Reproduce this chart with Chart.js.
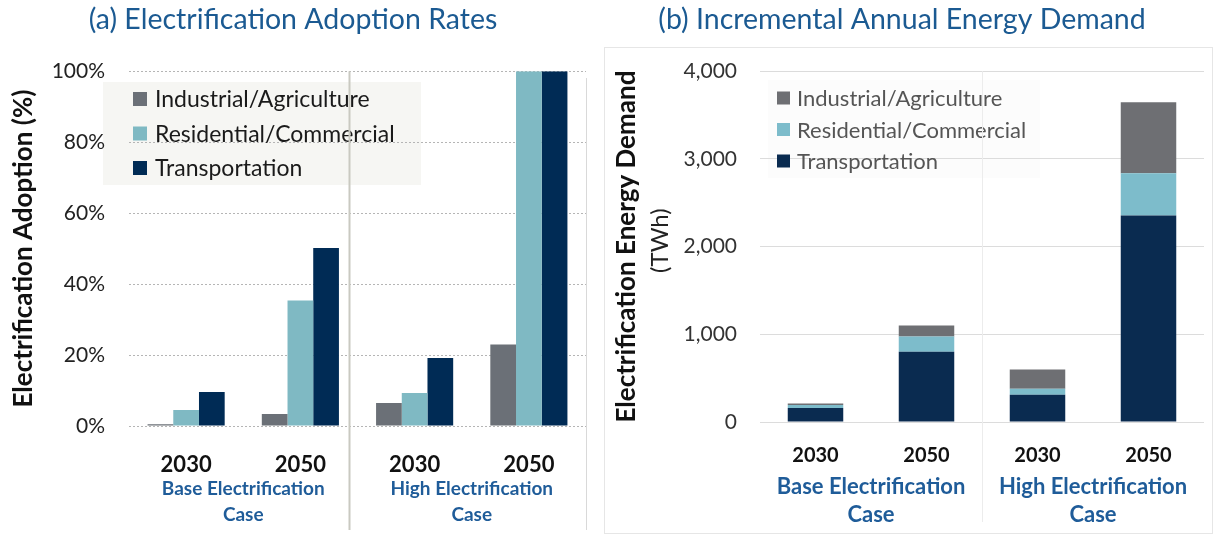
<!DOCTYPE html>
<html>
<head>
<meta charset="utf-8">
<script src="https://cdn.jsdelivr.net/npm/chart.js@4.4.1/dist/chart.umd.min.js"></script>
<style>
  html, body { margin: 0; padding: 0; background: #fff; }
  #wrap { position: relative; width: 1216px; height: 536px; overflow: hidden; }
  #leftBox { position: absolute; left: 0; top: 0; width: 600px; height: 536px; }
  #rightBox { position: absolute; left: 600px; top: 0; width: 616px; height: 536px; }
</style>
</head>
<body>
<div id="wrap">
  <div id="leftBox"><canvas id="adoptionChart"></canvas></div>
  <div id="rightBox"><canvas id="demandChart"></canvas></div>
</div>
<script>
// categories (year) and case groups
const years = ['2030', '2050', '2030', '2050'];
const caseGroups = [['Base Electrification', 'Case'], ['High Electrification', 'Case']];
const sectors = ['Industrial/Agriculture', 'Residential/Commercial', 'Transportation'];

// (a) adoption rates, %
const adoptIndustrial = [0.5, 3.4, 6.5, 23];
const adoptResidential = [4.5, 35.4, 9.3, 100];
const adoptTransport = [9.6, 50.2, 19.2, 100];
const adoptTicks = [0, 20, 40, 60, 80, 100];

// (b) incremental annual energy demand, TWh
const demandIndustrial = [15, 125, 220, 810];
const demandResidential = [35, 175, 70, 480];
const demandTransport = [160, 800, 310, 2355];
const demandTicks = [0, 1000, 2000, 3000, 4000];

const FONT = 'Lato, "Open Sans", sans-serif';
const TITLE_BLUE = '#1b5a92';
const GROUP_BLUE = '#1f5c99';

// légende dessinée dans la zone du graphique (fond sous la grille, entrées au-dessus)
function boxLegend(opts) {
  return {
    id: 'boxLegend',
    beforeDraw(chart) {
      if (!opts.bg) return;
      const ctx = chart.ctx;
      ctx.save();
      ctx.fillStyle = opts.bg;
      ctx.fillRect(opts.x, opts.y, opts.w, opts.h);
      ctx.restore();
    },
    afterDraw(chart) {
      const ctx = chart.ctx;
      ctx.save();
      ctx.font = opts.size + 'px ' + FONT;
      ctx.textBaseline = 'middle';
      ctx.textAlign = 'left';
      opts.items.forEach((it, i) => {
        const cy = opts.firstY + i * opts.step;
        ctx.fillStyle = it.color;
        ctx.fillRect(opts.sqX, cy - opts.sq / 2, opts.sq, opts.sq);
        ctx.fillStyle = opts.textColor;
        ctx.fillText(it.label, opts.textX, cy + 1);
      });
      ctx.restore();
    }
  };
}

// libellés de groupe sous l'axe + séparateur vertical
function caseLabels(opts) {
  return {
    id: 'caseLabels',
    afterDraw(chart) {
      const ctx = chart.ctx;
      const xs = chart.scales.x;
      const p = years.map((_, i) => xs.getPixelForValue(i));
      ctx.save();
      // séparateur entre les deux cas
      const sepX = (p[1] + p[2]) / 2 + opts.sepShift * (p[2] - p[1]);
      ctx.strokeStyle = opts.sepColor;
      ctx.lineWidth = opts.sepWidth;
      ctx.beginPath();
      ctx.moveTo(Math.round(sepX) + 0.5, chart.chartArea.top);
      ctx.lineTo(Math.round(sepX) + 0.5, opts.sepBottom);
      ctx.stroke();
      if (opts.edgeColor) {
        ctx.strokeStyle = opts.edgeColor;
        ctx.lineWidth = 1;
        ctx.beginPath();
        ctx.moveTo(chart.chartArea.right + 0.5, opts.edgeTop);
        ctx.lineTo(chart.chartArea.right + 0.5, opts.sepBottom);
        ctx.stroke();
      }
      if (opts.frame) {
        ctx.strokeStyle = opts.frame.color;
        ctx.lineWidth = 1;
        ctx.strokeRect(opts.frame.x + 0.5, opts.frame.y + 0.5, opts.frame.w, opts.frame.h);
      }
      ctx.fillStyle = GROUP_BLUE;
      ctx.font = 'bold ' + opts.size + 'px ' + FONT;
      ctx.textAlign = 'center';
      ctx.textBaseline = 'middle';
      caseGroups.forEach((lines, g) => {
        const cx = (p[g * 2] + p[g * 2 + 1]) / 2;
        lines.forEach((t, k) => {
          ctx.fillText(t, cx, chart.chartArea.bottom + opts.firstDy + k * opts.lineStep);
        });
      });
      if (opts.unit) {
        ctx.fillStyle = '#222';
        ctx.font = opts.unit.size + 'px ' + FONT;
        ctx.translate(opts.unit.x, (chart.chartArea.top + chart.chartArea.bottom) / 2 - 6);
        ctx.rotate(-Math.PI / 2);
        ctx.fillText(opts.unit.text, 0, 0);
      }
      ctx.restore();
    }
  };
}

const colsA = ['#6b7077', '#7fb9c3', '#002b55'];
const colsB = ['#6e6f73', '#7dbccb', '#0a2b50'];

// (a) barres groupées
new Chart(document.getElementById('adoptionChart'), {
  type: 'bar',
  data: {
    labels: years,
    datasets: [
      { label: sectors[0], data: adoptIndustrial, backgroundColor: colsA[0] },
      { label: sectors[1], data: adoptResidential, backgroundColor: colsA[1] },
      { label: sectors[2], data: adoptTransport, backgroundColor: colsA[2] }
    ]
  },
  options: {
    responsive: true,
    maintainAspectRatio: false,
    animation: false,
    layout: { padding: { left: 0, right: 14, top: 0, bottom: 0 } },
    datasets: { bar: { categoryPercentage: 0.675, barPercentage: 1.0 } },
    plugins: {
      legend: { display: false },
      tooltip: { enabled: false },
      title: {
        display: true,
        text: '(a) Electrification Adoption Rates',
        color: TITLE_BLUE,
        font: { family: FONT, size: 28.5, weight: 'normal' },
        padding: { top: 3, bottom: 34 }
      }
    },
    scales: {
      x: {
        grid: { display: false },
        border: { display: false },
        ticks: { color: '#111', font: { family: FONT, size: 22, weight: 'bold' }, padding: 18 },
        afterFit: s => { s.height = 110; }
      },
      y: {
        min: 0,
        max: 100,
        afterBuildTicks: s => { s.ticks = adoptTicks.map(v => ({ value: v })); },
        grid: { color: '#b5b5b5', lineWidth: 1, drawTicks: false },
        border: { display: false, dash: [2, 2] },
        ticks: {
          color: '#222',
          font: { family: FONT, size: 21 },
          padding: 24,
          callback: v => v + '%'
        },
        title: {
          display: true,
          text: 'Electrification Adoption (%)',
          color: '#111',
          font: { family: FONT, size: 26, weight: 'bold' },
          padding: { top: 8, bottom: 0 }
        },
        afterFit: s => { s.width = 129; }
      }
    }
  },
  plugins: [
    boxLegend({
      bg: '#f6f6f3', x: 103, y: 82, w: 318, h: 103,
      sqX: 133, sq: 14, textX: 155, firstY: 99, step: 34.5,
      size: 23, textColor: '#1a1a1a',
      items: sectors.map((s, i) => ({ label: s, color: colsA[i] }))
    }),
    caseLabels({
      sepShift: -0.075, sepColor: '#c9c9c1', sepWidth: 2, sepBottom: 530,
      edgeColor: '#d9d9d9', edgeTop: 78,
      size: 19, firstDy: 63, lineStep: 26
    })
  ]
});

// (b) barres empilées
new Chart(document.getElementById('demandChart'), {
  type: 'bar',
  data: {
    labels: years,
    datasets: [
      { label: sectors[2], data: demandTransport, backgroundColor: colsB[2] },
      { label: sectors[1], data: demandResidential, backgroundColor: colsB[1] },
      { label: sectors[0], data: demandIndustrial, backgroundColor: colsB[0] }
    ]
  },
  options: {
    responsive: true,
    maintainAspectRatio: false,
    animation: false,
    layout: { padding: { left: 0, right: 12, top: 0, bottom: 0 } },
    datasets: { bar: { categoryPercentage: 0.5, barPercentage: 1.0 } },
    plugins: {
      legend: { display: false },
      tooltip: { enabled: false },
      title: {
        display: true,
        text: '(b) Incremental Annual Energy Demand',
        color: TITLE_BLUE,
        font: { family: FONT, size: 28.5, weight: 'normal' },
        padding: { top: 3, bottom: 34 }
      }
    },
    scales: {
      x: {
        stacked: true,
        grid: { display: false },
        border: { display: false },
        ticks: { color: '#111', font: { family: FONT, size: 20, weight: 'bold' }, padding: 14 },
        afterFit: s => { s.height = 114; }
      },
      y: {
        stacked: true,
        min: 0,
        max: 4000,
        afterBuildTicks: s => { s.ticks = demandTicks.map(v => ({ value: v })); },
        grid: { color: '#dcdcdc', lineWidth: 1, drawTicks: false },
        border: { display: false },
        ticks: {
          color: '#333',
          font: { family: FONT, size: 21 },
          padding: 23,
          callback: v => v.toLocaleString('en-US')
        },
        title: {
          display: true,
          text: 'Electrification Energy Demand',
          color: '#111',
          font: { family: FONT, size: 26, weight: 'bold' },
          padding: { top: 11, bottom: 0 }
        },
        afterFit: s => { s.width = 160; }
      }
    }
  },
  plugins: [
    boxLegend({
      bg: 'rgba(246,246,246,0.35)', x: 168, y: 80, w: 272, h: 98,
      sqX: 177, sq: 13, textX: 197, firstY: 98, step: 31.5,
      size: 22, textColor: '#555',
      items: sectors.map((s, i) => ({ label: s, color: colsB[i] }))
    }),
    caseLabels({
      sepShift: 0, sepColor: '#ececec', sepWidth: 1, sepBottom: 522,
      frame: { color: '#e6e6e6', x: 4, y: 47, w: 608, h: 486 },
      size: 22, firstDy: 65, lineStep: 28,
      unit: { text: '(TWh)', x: 60, size: 24 }
    })
  ]
});
</script>
</body>
</html>
